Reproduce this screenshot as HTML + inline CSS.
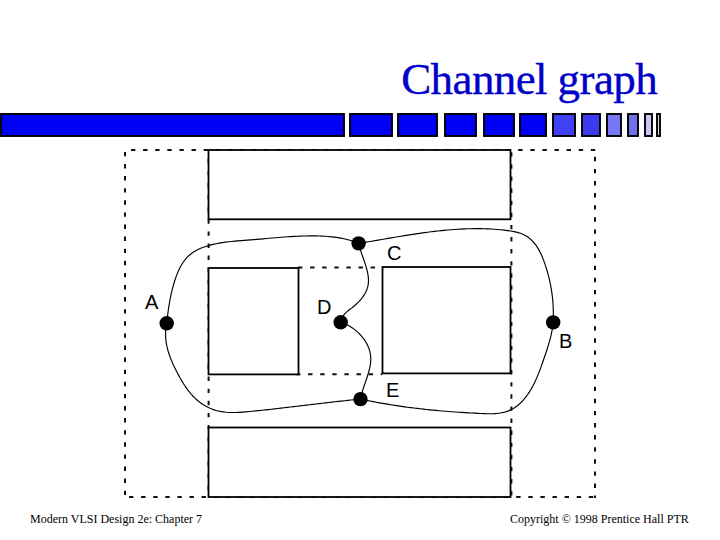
<!DOCTYPE html>
<html><head><meta charset="utf-8">
<style>
html,body{margin:0;padding:0;background:#fff;width:720px;height:540px;overflow:hidden}
svg{display:block}
</style></head>
<body>
<svg width="720" height="540" viewBox="0 0 720 540">
<rect x="0" y="0" width="720" height="540" fill="#fff"/>
<!-- title -->
<text x="401.2" y="94.3" font-family="Liberation Serif" font-size="45" letter-spacing="-0.6" fill="#0000c8" stroke="#0000c8" stroke-width="0.35">Channel graph</text>
<!-- bar -->
<g stroke="#000" stroke-width="1.9">
<rect x="1" y="114" width="343" height="22" fill="#0000f6"/>
<rect x="350" y="114" width="42" height="22" fill="#0000f6"/>
<rect x="398" y="114" width="39" height="22" fill="#0000f6"/>
<rect x="445" y="114" width="31" height="22" fill="#0000f6"/>
<rect x="484" y="114" width="30" height="22" fill="#0000f6"/>
<rect x="520" y="114" width="26" height="22" fill="#0000f6"/>
<rect x="553" y="114" width="22" height="22" fill="#4040f6"/>
<rect x="582" y="114" width="18" height="22" fill="#3a3aee"/>
<rect x="607" y="114" width="14" height="22" fill="#7878f4"/>
<rect x="628" y="114" width="10" height="22" fill="#7070e8"/>
<rect x="645" y="114" width="7" height="22" fill="#c8c8f8"/>
<rect x="657" y="114" width="3" height="22" fill="#d8d8e8"/>
</g>
<!-- diagram -->
<g fill="none" stroke="#111" stroke-width="2" stroke-dasharray="4.4 7.7">
<line x1="131" y1="150" x2="597" y2="150"/>
<line x1="129" y1="497" x2="597" y2="497"/>
<line x1="125" y1="151.9" x2="125" y2="498"/>
<line x1="595" y1="156.8" x2="595" y2="498"/>
<line x1="208.6" y1="158.8" x2="208.6" y2="497"/>
<line x1="511.4" y1="152.3" x2="511.4" y2="497"/>
<line x1="298" y1="267.6" x2="382" y2="267.6"/>
<line x1="296" y1="374.2" x2="382" y2="374.2"/>
</g>
<g fill="#fff" stroke="#000" stroke-width="1.8">
<rect x="208.5" y="150" width="302" height="69.3"/>
<rect x="208.5" y="268" width="90" height="106.4"/>
<rect x="382.5" y="267" width="128" height="106.4"/>
<rect x="208.5" y="427.5" width="302" height="69.5"/>
</g>
<g fill="none" stroke="#000" stroke-width="1.15" stroke-linejoin="round" stroke-linecap="round">
<path id="outer" d="M166.70 323.30 L167.05 320.20 L167.41 317.10 L167.80 314.02 L168.21 310.95 L168.64 307.88 L169.12 304.83 L169.63 301.77 L170.19 298.73 L170.81 295.68 L171.47 292.64 L172.20 289.60 L173.00 286.56 L173.87 283.51 L174.82 280.47 L175.85 277.42 L176.97 274.40 L178.20 271.42 L179.55 268.52 L181.03 265.71 L182.64 263.03 L184.42 260.49 L186.35 258.13 L188.46 255.97 L190.75 254.03 L193.19 252.28 L195.78 250.71 L198.48 249.32 L201.29 248.08 L204.18 246.99 L207.12 246.02 L210.11 245.16 L213.13 244.40 L216.18 243.73 L219.25 243.14 L222.34 242.63 L225.45 242.18 L228.57 241.79 L231.71 241.45 L234.85 241.14 L238.00 240.86 L241.16 240.61 L244.31 240.37 L247.46 240.13 L250.60 239.89 L253.73 239.63 L256.85 239.37 L259.97 239.10 L263.08 238.83 L266.18 238.55 L269.28 238.28 L272.37 238.01 L275.46 237.74 L278.55 237.49 L281.64 237.24 L284.73 237.01 L287.81 236.79 L290.90 236.59 L294.00 236.41 L297.09 236.25 L300.19 236.12 L303.30 236.02 L306.41 235.95 L309.53 235.91 L312.65 235.90 L315.79 235.93 L318.94 236.01 L322.09 236.13 L325.24 236.30 L328.39 236.52 L331.53 236.82 L334.66 237.18 L337.77 237.62 L340.85 238.15 L343.91 238.76 L346.94 239.47 L349.92 240.28 L352.87 241.20 L355.76 242.24 L358.60 243.40 M358.60 243.40 L361.86 242.87 L365.13 242.33 L368.39 241.78 L371.67 241.23 L374.94 240.67 L378.22 240.11 L381.50 239.55 L384.79 238.98 L388.07 238.42 L391.36 237.86 L394.66 237.30 L397.95 236.75 L401.25 236.20 L404.55 235.66 L407.86 235.13 L411.16 234.61 L414.47 234.10 L417.78 233.61 L421.09 233.13 L424.41 232.67 L427.72 232.22 L431.04 231.80 L434.36 231.39 L437.68 231.01 L441.00 230.65 L444.32 230.32 L447.64 230.01 L450.97 229.73 L454.29 229.48 L457.62 229.25 L460.94 229.07 L464.27 228.91 L467.60 228.79 L470.92 228.70 L474.25 228.66 L477.58 228.65 L480.91 228.68 L484.23 228.75 L487.56 228.87 L490.89 229.03 L494.21 229.24 L497.54 229.50 L500.87 229.80 L504.19 230.16 L507.51 230.56 L510.83 231.04 L514.11 231.62 L517.32 232.36 L520.44 233.30 L523.43 234.50 L526.26 236.00 L528.92 237.82 L531.38 239.94 L533.64 242.31 L535.71 244.90 L537.59 247.68 L539.29 250.63 L540.85 253.70 L542.26 256.88 L543.55 260.12 L544.73 263.40 L545.83 266.69 L546.84 269.96 L547.77 273.21 L548.63 276.46 L549.42 279.69 L550.13 282.91 L550.77 286.13 L551.34 289.35 L551.83 292.58 L552.26 295.81 L552.61 299.05 L552.90 302.31 L553.11 305.59 L553.26 308.89 L553.35 312.22 L553.36 315.58 L553.31 318.97 L553.20 322.40 M553.20 322.40 L552.83 325.62 L552.36 328.79 L551.78 331.93 L551.12 335.02 L550.38 338.10 L549.56 341.14 L548.68 344.17 L547.76 347.19 L546.78 350.20 L545.78 353.21 L544.75 356.22 L543.71 359.25 L542.66 362.28 L541.59 365.32 L540.49 368.35 L539.36 371.38 L538.18 374.39 L536.94 377.37 L535.64 380.32 L534.26 383.23 L532.80 386.09 L531.24 388.90 L529.58 391.64 L527.80 394.32 L525.90 396.91 L523.88 399.40 L521.74 401.76 L519.47 403.96 L517.08 405.97 L514.57 407.77 L511.94 409.33 L509.20 410.63 L506.34 411.65 L503.38 412.44 L500.33 413.01 L497.21 413.39 L494.03 413.62 L490.81 413.71 L487.55 413.70 L484.27 413.62 L480.99 413.48 L477.71 413.33 L474.44 413.17 L471.18 412.99 L467.94 412.81 L464.70 412.62 L461.48 412.42 L458.26 412.21 L455.05 411.99 L451.85 411.76 L448.66 411.51 L445.48 411.26 L442.30 410.99 L439.13 410.72 L435.97 410.43 L432.81 410.13 L429.65 409.81 L426.50 409.49 L423.36 409.15 L420.21 408.79 L417.08 408.42 L413.94 408.04 L410.80 407.65 L407.67 407.24 L404.54 406.81 L401.40 406.37 L398.27 405.91 L395.14 405.44 L392.01 404.95 L388.87 404.44 L385.73 403.92 L382.59 403.38 L379.45 402.82 L376.30 402.25 L373.15 401.66 L370.00 401.05 L366.84 400.42 L363.67 399.77 L360.50 399.10 M360.50 399.10 L357.33 399.41 L354.15 399.72 L350.97 400.05 L347.79 400.38 L344.61 400.72 L341.43 401.07 L338.24 401.42 L335.05 401.77 L331.87 402.14 L328.68 402.50 L325.49 402.87 L322.30 403.24 L319.12 403.62 L315.93 404.00 L312.75 404.38 L309.56 404.76 L306.38 405.14 L303.20 405.52 L300.02 405.90 L296.85 406.28 L293.68 406.66 L290.51 407.03 L287.34 407.41 L284.18 407.78 L281.03 408.14 L277.87 408.51 L274.72 408.86 L271.56 409.22 L268.40 409.56 L265.24 409.91 L262.06 410.24 L258.87 410.57 L255.66 410.90 L252.44 411.22 L249.20 411.53 L245.94 411.83 L242.67 412.10 L239.39 412.31 L236.13 412.46 L232.87 412.51 L229.64 412.45 L226.44 412.27 L223.28 411.93 L220.17 411.42 L217.12 410.73 L214.13 409.84 L211.21 408.77 L208.37 407.51 L205.61 406.08 L202.94 404.48 L200.37 402.71 L197.90 400.79 L195.55 398.71 L193.30 396.49 L191.16 394.14 L189.12 391.67 L187.16 389.10 L185.30 386.44 L183.51 383.70 L181.79 380.90 L180.14 378.04 L178.56 375.15 L177.02 372.24 L175.54 369.32 L174.11 366.38 L172.75 363.44 L171.48 360.48 L170.29 357.51 L169.21 354.52 L168.25 351.51 L167.41 348.48 L166.71 345.43 L166.16 342.35 L165.78 339.25 L165.56 336.13 L165.54 332.97 L165.71 329.78 L166.10 326.56 L166.70 323.30"/>
<path id="inner" d="M358.60 243.40 L358.97 245.04 L359.41 246.71 L359.90 248.41 L360.44 250.14 L361.02 251.90 L361.63 253.68 L362.27 255.48 L362.91 257.30 L363.56 259.13 L364.20 260.98 L364.84 262.83 L365.44 264.69 L366.02 266.56 L366.56 268.42 L367.05 270.29 L367.48 272.15 L367.85 273.99 L368.14 275.83 L368.34 277.66 L368.46 279.47 L368.47 281.26 L368.37 283.03 L368.15 284.77 L367.81 286.48 L367.34 288.17 L366.76 289.83 L366.06 291.45 L365.26 293.04 L364.36 294.60 L363.37 296.13 L362.30 297.62 L361.15 299.07 L359.93 300.49 L358.64 301.87 L357.30 303.21 L355.90 304.51 L354.47 305.77 L352.99 306.99 L351.49 308.17 L349.98 309.33 L348.51 310.50 L347.08 311.68 L345.73 312.91 L344.48 314.20 L343.36 315.58 L342.40 317.05 L341.62 318.65 L341.04 320.39 L340.70 322.30 M340.70 322.30 L342.45 322.87 L344.18 323.53 L345.89 324.27 L347.58 325.10 L349.25 326.00 L350.88 326.98 L352.48 328.03 L354.04 329.15 L355.55 330.33 L357.02 331.57 L358.44 332.88 L359.80 334.24 L361.10 335.65 L362.34 337.11 L363.51 338.61 L364.61 340.16 L365.63 341.75 L366.57 343.37 L367.43 345.03 L368.20 346.71 L368.88 348.42 L369.46 350.16 L369.94 351.91 L370.31 353.68 L370.58 355.47 L370.73 357.26 L370.78 359.07 L370.72 360.88 L370.58 362.70 L370.35 364.52 L370.04 366.35 L369.66 368.18 L369.23 370.02 L368.74 371.86 L368.21 373.70 L367.64 375.54 L367.04 377.38 L366.42 379.22 L365.78 381.05 L365.15 382.89 L364.51 384.72 L363.89 386.54 L363.29 388.36 L362.71 390.17 L362.16 391.98 L361.66 393.77 L361.21 395.56 L360.82 397.33 L360.50 399.10"/>
</g>
<g fill="#000">
<circle cx="166.7" cy="323.3" r="7.2"/>
<circle cx="553.2" cy="322.4" r="7.2"/>
<circle cx="358.6" cy="243.4" r="7.2"/>
<circle cx="340.7" cy="322.3" r="7.2"/>
<circle cx="360.5" cy="399.1" r="7.2"/>
</g>
<g font-family="Liberation Sans" font-size="20" fill="#000">
<text x="145" y="309">A</text>
<text x="559" y="348">B</text>
<text x="387" y="260">C</text>
<text x="317" y="314">D</text>
<text x="386" y="397">E</text>
</g>
<g font-family="Liberation Serif" font-size="12" fill="#000">
<text x="30" y="522.5">Modern VLSI Design 2e: Chapter 7</text>
<text x="510" y="522.5">Copyright &#169; 1998 Prentice Hall PTR</text>
</g>
</svg>
</body></html>
